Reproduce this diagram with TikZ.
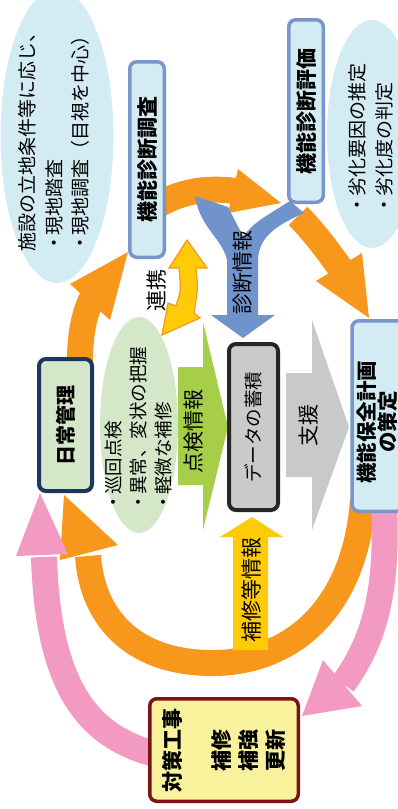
\documentclass[tikz,border=0pt]{standalone}
\usepackage{fontspec}
\setmainfont{Noto Sans CJK JP}
\usetikzlibrary{shapes.geometric}
\definecolor{orng}{HTML}{F7981D}
\definecolor{pnk}{HTML}{F29AC1}
\definecolor{lblue}{HTML}{D3ECF3}
\definecolor{bborder}{HTML}{7896CB}
\definecolor{barrow}{HTML}{7193CC}
\definecolor{navy}{HTML}{1B365F}
\definecolor{lgreen}{HTML}{D4E8C9}
\definecolor{lime}{HTML}{A6CE48}
\definecolor{grayf}{HTML}{C8C9CB}
\definecolor{grayb}{HTML}{CACACA}
\definecolor{ylw}{HTML}{FFCB08}
\definecolor{ybox}{HTML}{F7F29B}
\definecolor{dred}{HTML}{7B1419}
\newcommand\mydot{\makebox[0.8em][c]{・}}
\begin{document}
\begin{tikzpicture}[x=1pt,y=-1pt,
  lbl/.style={rotate=90, inner sep=0pt, font=\fontsize{21}{24}\selectfont},
  boxlbl/.style={rotate=90, inner sep=0pt, align=center, font=\bfseries\fontsize{21}{24}\selectfont},
  elltext/.style={rotate=90, inner sep=0pt, align=left, font=\fontsize{19}{26.5}\selectfont},
  ell/.style={ellipse, draw=none, inner sep=0pt},
  rbox/.style={rotate=90, rounded corners=7pt, line width=3.5pt, inner sep=0pt},
  oband/.style={draw=orng, line width=26pt},
  pband/.style={draw=pnk, line width=26pt},
]
\useasboundingbox (0,0) rectangle (398,809);
\clip (0,0) rectangle (398,809);

% ---------- orange cycle ----------
\coordinate (a0) at (80,375); \coordinate (a1) at (92,298);
\draw[oband] (a0) .. controls (79,340) and (83,316) .. (a1);
\fill[orng] (70,284) -- (128,252) -- (110,320) -- cycle;

\coordinate (b0) at (158,205); \coordinate (b1) at (236,191);
\draw[oband] (b0) .. controls (180,192) and (205,187) .. (b1);
\fill[orng] (238,169) -- (281,203) -- (228,213) -- cycle;

\coordinate (c0) at (298,216); \coordinate (c1) at (341,269);
\draw[oband] (c0) .. controls (315,233) and (327,250) .. (c1);
\fill[orng] (316,281) -- (362,253) -- (369,318) -- cycle;

\coordinate (d0) at (363,500); \coordinate (d1) at (88,556);
\draw[oband] (d0) .. controls (355,610) and (290,664) .. (210,663)
  .. controls (130,662) and (92,615) .. (d1);
\fill[orng] (60,560) -- (64,495) -- (118,545) -- cycle;

% ---------- pink arrows ----------
\coordinate (p0) at (384,505); \coordinate (p1) at (343,684);
\draw[pband] (p0) .. controls (388,590) and (375,640) .. (p1);
\fill[pnk] (323,660) -- (362,706) -- (302,716) -- cycle;

\coordinate (q0) at (155,754); \coordinate (q1) at (44,557);
\draw[pband] (q0) .. controls (90,737) and (48,690) .. (q1);
\fill[pnk] (16,556) -- (40,493) -- (68,554) -- cycle;

% ---------- ellipses ----------
\node[ell, fill=lblue, minimum width=113pt, minimum height=294pt] (e1) at (57,136) {};
\node[ell, fill=lblue, minimum width=90pt, minimum height=228pt] (e2) at (372,134) {};
\node[ell, fill=lgreen, minimum width=78pt, minimum height=216pt] (e3) at (139,425) {};

\node[elltext] (t1) at (54,137) {施設の立地条件等に応じ、\\\mydot 現地踏査\\\mydot 現地調査（目視を中心）};
\node[elltext] (t2) at (371,138) {\mydot 劣化要因の推定\\\mydot 劣化度の判定};
\node[elltext, font=\fontsize{18.5}{25}\selectfont] (t3) at (138,428) {\mydot 巡回点検\\\mydot 異常、変状の把握\\\mydot 軽微な補修};

% ---------- blue Y arrow ----------
\fill[barrow] (195,196) -- (228,207) .. controls (236,222) .. (243,236)
  .. controls (256,222) .. (290,201) -- (304,213)
  .. controls (270,228) and (259,240) .. (258,260) -- (258,315) -- (275,315)
  -- (243,338) -- (211,315) -- (227,315) -- (227,260)
  .. controls (222,238) and (200,228) .. cycle;
\node[lbl] (shindan) at (243,272) {診断情報};

% ---------- yellow 連携 arrow ----------
\filldraw[fill=ylw, draw=orng, line width=1.2pt, line join=miter]
  (187,240) -- (207,268) -- (196,268) .. controls (198,288) .. (194,313)
  -- (200,318) -- (162,335) -- (168,303) -- (176,306)
  .. controls (181,290) .. (179,268) -- (169,268) -- cycle;
\node[lbl] (renkei) at (157,290) {連携};

% ---------- lime arrow ----------
\fill[lime] (178,367) -- (203,367) -- (203,322) -- (228,427) -- (203,530)
  -- (203,485) -- (178,485) -- cycle;
\node[lbl] (tenken) at (194,431) {点検情報};

% ---------- gray arrow ----------
\fill[grayf] (286,373) -- (312,373) -- (312,320) -- (349,427) -- (312,530)
  -- (312,477) -- (286,477) -- cycle;
\node[lbl] (shien) at (309,425) {支援};

% ---------- yellow up arrow ----------
\fill[ylw] (233,650) -- (233,537) -- (220,537) -- (252,517) -- (283,537)
  -- (268,537) -- (268,650) -- cycle;
\node[lbl] (hoshu) at (251,590) {補修等情報};

% ---------- boxes ----------
\node[rbox, draw=bborder, fill=lblue, minimum width=195.5pt, minimum height=34.5pt] (chousa) at (147,159.5) {};
\node[boxlbl] at (chousa.center) {機能診断調査};

\node[rbox, draw=bborder, fill=lblue, minimum width=182.5pt, minimum height=34.5pt] (hyouka) at (306,111) {};
\node[boxlbl] at (hyouka.center) {機能診断評価};

\node[rbox, draw=bborder, fill=lblue, minimum width=190.5pt, minimum height=52pt] (keikaku) at (378,416) {};
\node[boxlbl, font=\bfseries\fontsize{20.5}{21.5}\selectfont] at (377,422) {機能保全計画\\の策定};

\node[rbox, draw=navy, line width=4pt, fill=lgreen, minimum width=132pt, minimum height=53pt] (nichijo) at (65.5,425) {};
\node[boxlbl, font=\bfseries\fontsize{20}{24}\selectfont] at (nichijo.center) {日常管理};

\node[rbox, draw=black!85, line width=4pt, fill=grayb, minimum width=166pt, minimum height=49pt] (data) at (253.5,427) {};
\node[lbl, font=\fontsize{18.5}{22}\selectfont] at (data.center) {データの蓄積};

\node[rbox, draw=dred, fill=ybox, minimum width=102.5pt, minimum height=148.5pt] (taisaku) at (224,750) {};
\node[boxlbl] (t4) at (172,750) {対策工事};
\node[boxlbl, font=\bfseries\fontsize{21}{27}\selectfont] (t5) at (249,750) {補修\\補強\\更新};
\end{tikzpicture}
\end{document}
